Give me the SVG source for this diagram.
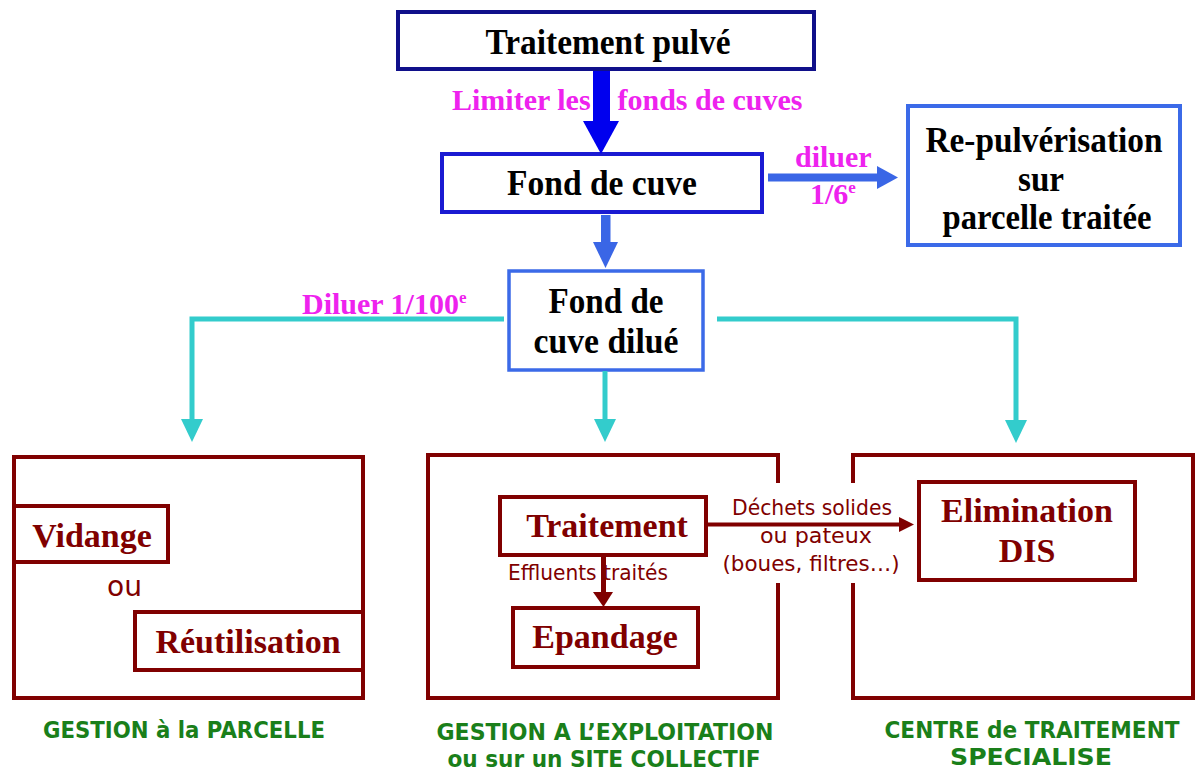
<svg xmlns="http://www.w3.org/2000/svg" width="1196" height="771" viewBox="0 0 1196 771">
<style>
.serif{font-family:"Liberation Serif","Times New Roman",serif;font-weight:bold}
.sans{font-family:"DejaVu Sans","Liberation Sans",sans-serif}
.blk{fill:#000}
.mag{fill:#ee22ee}
.red{fill:#800000}
.grn{fill:#1a7f1a;font-weight:bold}
.rbox{fill:none;stroke:#800000;stroke-width:4}
.teal{fill:none;stroke:#33cccc;stroke-width:5}
</style>
<rect width="1196" height="771" fill="#fff"/>

<g id="node-traitement-pulve">
<rect x="398" y="12" width="416" height="57" fill="#fff" stroke="#10108a" stroke-width="4"/>
<text class="serif blk" x="608" y="54" font-size="35" text-anchor="middle" textLength="245" lengthAdjust="spacingAndGlyphs">Traitement pulvé</text>
</g>

<text id="label-limiter" class="serif mag" x="452" y="110" font-size="30">Limiter les<tspan x="610"> fonds de cuves</tspan></text>

<g id="node-fond-de-cuve">
<rect x="442" y="154" width="320" height="58" fill="#fff" stroke="#1a1ad2" stroke-width="4"/>
<text class="serif blk" x="602" y="195" font-size="35" text-anchor="middle" textLength="190" lengthAdjust="spacingAndGlyphs">Fond de cuve</text>
</g>

<g id="node-re-pulverisation">
<rect x="908" y="106" width="272" height="139" fill="#fff" stroke="#3b6ae8" stroke-width="4"/>
<text class="serif blk" x="1044" y="152" font-size="35" text-anchor="middle" textLength="237" lengthAdjust="spacingAndGlyphs">Re-pulvérisation</text>
<text class="serif blk" x="1041" y="191" font-size="35" text-anchor="middle" textLength="46" lengthAdjust="spacingAndGlyphs">sur</text>
<text class="serif blk" x="1047" y="229" font-size="35" text-anchor="middle" textLength="209" lengthAdjust="spacingAndGlyphs">parcelle traitée</text>
</g>

<g id="node-fond-de-cuve-dilue">
<rect x="509" y="271" width="194" height="99" fill="#fff" stroke="#3b6ae8" stroke-width="3.5"/>
<text class="serif blk" x="606" y="313" font-size="35" text-anchor="middle" textLength="115" lengthAdjust="spacingAndGlyphs">Fond de</text>
<text class="serif blk" x="606" y="353" font-size="35" text-anchor="middle" textLength="145" lengthAdjust="spacingAndGlyphs">cuve dilué</text>
</g>

<g id="node-gestion-parcelle">
<rect class="rbox" x="14" y="457" width="349" height="241"/>
<g id="node-vidange">
<rect class="rbox" x="14" y="506" width="154" height="56" fill="#fff"/>
<text class="serif red" x="92" y="547" font-size="34" text-anchor="middle">Vidange</text>
</g>
<text class="sans red" x="107" y="596" font-size="28" textLength="35" lengthAdjust="spacingAndGlyphs">ou</text>
<g id="node-reutilisation">
<rect class="rbox" x="135" y="612" width="228" height="58" fill="#fff"/>
<text class="serif red" x="248" y="653" font-size="34" text-anchor="middle">Réutilisation</text>
</g>
<text class="sans grn" x="184" y="738" font-size="23" text-anchor="middle" textLength="282" lengthAdjust="spacingAndGlyphs">GESTION à la PARCELLE</text>
</g>

<g id="node-gestion-exploitation">
<path class="rbox" d="M778,483 V455 H428 V698 H778 V583"/>
<g id="node-traitement">
<rect class="rbox" x="500" y="497" width="206" height="58" fill="#fff"/>
<text class="serif red" x="607" y="537" font-size="34" text-anchor="middle">Traitement</text>
</g>
<g id="node-epandage">
<rect class="rbox" x="513" y="608" width="185" height="59" fill="#fff"/>
<text class="serif red" x="605" y="648" font-size="34" text-anchor="middle">Epandage</text>
</g>
<text class="sans grn" x="605" y="740" font-size="23" text-anchor="middle" textLength="337" lengthAdjust="spacingAndGlyphs">GESTION A L’EXPLOITATION</text>
<text class="sans grn" x="604" y="767" font-size="23" text-anchor="middle" textLength="313" lengthAdjust="spacingAndGlyphs">ou sur un SITE COLLECTIF</text>
</g>

<g id="node-centre-traitement">
<path class="rbox" d="M853,483 V455 H1193 V698 H853 V583"/>
<g id="node-elimination">
<rect class="rbox" x="919" y="482" width="216" height="98" fill="#fff"/>
<text class="serif red" x="1027" y="522" font-size="34" text-anchor="middle">Elimination</text>
<text class="serif red" x="1027" y="562" font-size="34" text-anchor="middle">DIS</text>
</g>
<text class="sans grn" x="1032" y="738" font-size="23" text-anchor="middle" textLength="295" lengthAdjust="spacingAndGlyphs">CENTRE de TRAITEMENT</text>
<text class="sans grn" x="1031" y="765" font-size="23" text-anchor="middle" textLength="162" lengthAdjust="spacingAndGlyphs">SPECIALISE</text>
</g>

<g id="connectors">
<rect x="593" y="71" width="17" height="51" fill="#0000ee"/>
<polygon points="583,121 619,121 601,154" fill="#0000ee"/>
<rect x="768" y="173.5" width="111" height="8" fill="#3a66e6"/>
<polygon points="877,166 877,189 898,177.5" fill="#3a66e6"/>
<text class="serif mag" x="795" y="167" font-size="30">diluer</text>
<text class="serif mag" x="810" y="204" font-size="30">1/6<tspan font-size="17" dy="-11">e</tspan></text>
<rect x="601" y="215" width="9.5" height="28" fill="#3a66e6"/>
<polygon points="593,242 618,242 605.5,268" fill="#3a66e6"/>
<polyline class="teal" points="504,319 192,319 192,421"/>
<polygon points="181,419 203,419 192,442" fill="#33cccc"/>
<polyline class="teal" points="605,371 605,421"/>
<polygon points="594,419 616,419 605,442" fill="#33cccc"/>
<polyline class="teal" points="717,319 1016,319 1016,421"/>
<polygon points="1005,420 1027,420 1016,443" fill="#33cccc"/>
<text class="serif mag" x="302" y="314" font-size="30">Diluer 1/100<tspan font-size="17" dy="-11">e</tspan></text>
<rect x="601" y="555" width="5" height="38" fill="#800000"/>
<polygon points="593,592 613,592 603.5,607" fill="#800000"/>
<text class="sans red" x="508" y="580" font-size="22" textLength="160" lengthAdjust="spacingAndGlyphs">Effluents traités</text>
<rect x="708" y="522.5" width="194" height="4" fill="#800000"/>
<polygon points="899,517 899,532 914,524.5" fill="#800000"/>
<text class="sans red" x="812" y="515" font-size="22" text-anchor="middle" textLength="160" lengthAdjust="spacingAndGlyphs">Déchets solides</text>
<text class="sans red" x="816" y="543" font-size="22" text-anchor="middle" textLength="112" lengthAdjust="spacingAndGlyphs">ou pateux</text>
<text class="sans red" x="811" y="571" font-size="22" text-anchor="middle" textLength="177" lengthAdjust="spacingAndGlyphs">(boues, filtres…)</text>
</g>
</svg>
